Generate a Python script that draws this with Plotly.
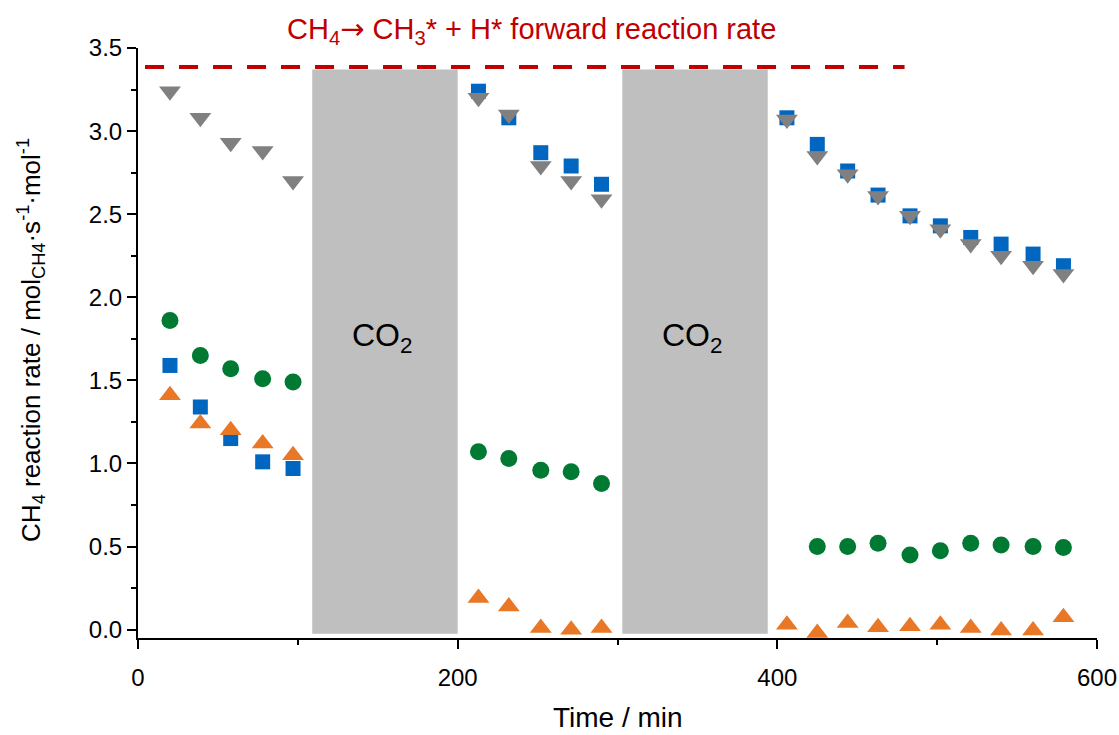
import plotly.graph_objects as go

# ---------------- data ----------------
time_blue = [20, 39, 58, 78, 97,
             213, 232, 252, 271, 290,
             406, 425, 444, 463, 483, 502, 521, 540, 560, 579]
rate_blue = [1.59, 1.34, 1.15, 1.01, 0.97,
             3.24, 3.08, 2.87, 2.79, 2.68,
             3.08, 2.92, 2.76, 2.615, 2.49, 2.43, 2.36, 2.32, 2.26, 2.19]

time_gray = [20, 39, 58, 78, 97,
             213, 232, 252, 271, 290,
             406, 425, 444, 463, 483, 502, 521, 540, 560, 579]
rate_gray = [3.24, 3.08, 2.93, 2.88, 2.70,
             3.20, 3.10, 2.79, 2.70, 2.59,
             3.07, 2.85, 2.74, 2.61, 2.49, 2.41, 2.32, 2.25, 2.19, 2.14]

time_green = [20, 39, 58, 78, 97,
              213, 232, 252, 271, 290,
              425, 444, 463, 483, 502, 521, 540, 560, 579]
rate_green = [1.86, 1.65, 1.57, 1.51, 1.49,
              1.07, 1.03, 0.96, 0.95, 0.88,
              0.50, 0.50, 0.52, 0.45, 0.475, 0.52, 0.51, 0.50, 0.495]

time_orange = [20, 39, 58, 78, 97,
               213, 232, 252, 271, 290,
               406, 425, 444, 463, 483, 502, 521, 540, 560, 579]
rate_orange = [1.41, 1.24, 1.20, 1.12, 1.05,
               0.19, 0.14, 0.01, 0.00, 0.01,
               0.03, -0.02, 0.04, 0.015, 0.02, 0.03, 0.01, -0.005, -0.005, 0.075]

co2_start = [109, 303]
co2_end = [200, 394]
co2_bottom = -0.025
co2_top = 3.37

forward_rate = 3.385
forward_time = [4.4, 479.6]

x_ticks = [0, 200, 400, 600]
y_ticks = [0.0, 0.5, 1.0, 1.5, 2.0, 2.5, 3.0, 3.5]

# ---------------- style ----------------
FONT = "Arial, Liberation Sans, sans-serif"
BLUE = "#0066C0"
GRAY = "#808080"
GREEN = "#007A33"
ORANGE = "#E87726"
RED = "#C00000"
SHADE = "#BFBFBF"

fig = go.Figure()

fig.add_trace(go.Scatter(
    x=forward_time, y=[forward_rate] * len(forward_time), mode="lines",
    line=dict(color=RED, width=4, dash="19px,15px"), showlegend=False, hoverinfo="skip"))

fig.add_trace(go.Scatter(x=time_blue, y=rate_blue, mode="markers",
                         marker=dict(symbol="square", size=15, color=BLUE), showlegend=False))
fig.add_trace(go.Scatter(x=time_green, y=rate_green, mode="markers",
                         marker=dict(symbol="circle", size=17, color=GREEN), showlegend=False))
fig.add_trace(go.Scatter(x=time_orange, y=rate_orange, mode="markers",
                         marker=dict(symbol="triangle-up", size=19, color=ORANGE), showlegend=False))
fig.add_trace(go.Scatter(x=time_gray, y=rate_gray, mode="markers",
                         marker=dict(symbol="triangle-down", size=19, color=GRAY), showlegend=False))

for x0, x1 in zip(co2_start, co2_end):
    fig.add_shape(type="rect", xref="x", yref="y", x0=x0, x1=x1, y0=co2_bottom, y1=co2_top,
                  fillcolor=SHADE, line=dict(width=0), layer="below")
    fig.add_annotation(x=(x0 + x1) / 2, y=1.76, xref="x", yref="y", text="CO<sub>2</sub>",
                       showarrow=False, xshift=-3,
                       font=dict(family=FONT, size=32, color="black"))

fig.add_annotation(xref="paper", yref="paper", x=0.41, y=1.0305,
                   text=("CH<sub>4</sub><span style=\"font-family:DejaVu Sans\">\u2192</span> "
                         "CH<sub>3</sub>* + H* forward reaction rate"),
                   showarrow=False, xanchor="center", yanchor="middle",
                   font=dict(family=FONT, size=29, color=RED))

fig.add_annotation(xref="paper", yref="paper", x=0.5, y=-0.134,
                   text="Time / min", showarrow=False, xanchor="center", yanchor="middle",
                   font=dict(family=FONT, size=28, color="black"))

fig.add_annotation(xref="paper", yref="paper", x=-0.1117, y=0.505, textangle=-90,
                   text="CH<sub>4</sub> reaction rate / mol<sub>CH4</sub>\u00b7s<sup>-1</sup>\u00b7mol<sup>-1</sup>",
                   showarrow=False, xanchor="center", yanchor="middle",
                   font=dict(family=FONT, size=26, color="black"))

axis_common = dict(showline=True, linecolor="black", linewidth=2, ticks="outside",
                   ticklen=9, tickwidth=2, tickcolor="black", showgrid=False, zeroline=False,
                   tickfont=dict(family=FONT, size=24, color="black"), mirror=False,
                   automargin=False)

fig.update_xaxes(range=[0, 600], tickvals=x_ticks, ticklabelstandoff=8,
                 minor=dict(dtick=100, tick0=0, ticks="outside", ticklen=5, tickwidth=2,
                            tickcolor="black", showgrid=False),
                 **axis_common)
fig.update_yaxes(range=[-0.05, 3.5], tickvals=y_ticks, tickformat=".1f",
                 minor=dict(dtick=0.25, tick0=0, ticks="outside", ticklen=5, tickwidth=2,
                            tickcolor="black", showgrid=False),
                 **axis_common)

fig.update_layout(width=1119, height=735, margin=dict(l=138, r=22, t=48, b=97),
                  plot_bgcolor="white", paper_bgcolor="white", showlegend=False)

fig.write_html("out.html")
